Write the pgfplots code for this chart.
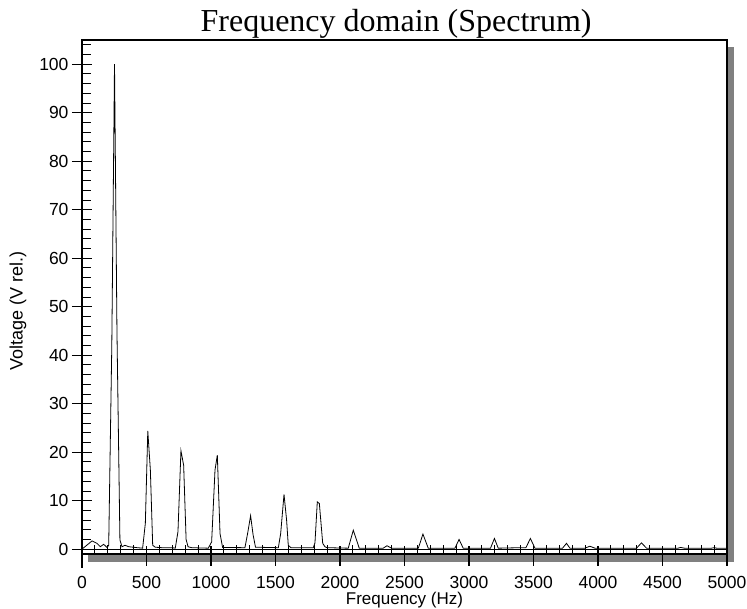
\documentclass[border=0pt]{standalone}
\usepackage{fontspec}
\setmainfont{Liberation Sans}
\newfontfamily\seriffont{Liberation Serif}
\usepackage{pgfplots}
\pgfplotsset{compat=1.18}
\definecolor{shadow}{HTML}{808080}
\begin{document}
\begin{tikzpicture}
\path[use as bounding box] (-82pt,-55pt) rectangle (665pt,554pt);
\begin{axis}[
  name=ax, at={(0,0)}, anchor=south west,
  width=645pt, height=514pt, scale only axis,
  xmin=0, xmax=5000, ymin=-1, ymax=105,
  axis on top, clip=false,
  axis line style={line width=1.3pt},
  xtick distance=500, ytick distance=10,
  minor x tick num=4, minor y tick num=4,
  tick pos=left, tick align=inside,
  major tick length=20pt, minor tick length=9pt,
  every major tick/.append style={line width=1.2pt, black},
  every minor tick/.append style={line width=0.9pt, black},
  every major x tick/.append style={yshift=-12pt},
  every major y tick/.append style={xshift=-10pt},
  scaled x ticks=false, scaled y ticks=false,
  /pgf/number format/1000 sep={},
  /pgf/number format/assume math mode=true,
  ticklabel style={font=\fontsize{17.5}{20}\selectfont},
  xticklabel style={yshift=-22pt, inner sep=0pt},
  yticklabel style={xshift=-10pt},
  xlabel={Frequency (Hz)},
  ylabel={Voltage (V rel.)},
  xlabel style={at={(axis description cs:0.5,0)}, anchor=base, yshift=-50.5pt, inner sep=0pt, font=\fontsize{17}{20}\selectfont},
  ylabel style={at={(axis description cs:0,0.473)}, anchor=center, yshift=64pt, font=\fontsize{18}{20}\selectfont},
  title={Frequency domain (Spectrum)},
  title style={at={(axis description cs:0.487,1)}, anchor=base, yshift=2pt, font=\seriffont\fontsize{32}{35}\selectfont},
]
\fill[shadow] ([xshift=6pt,yshift=-8pt]rel axis cs:0,0) rectangle ([xshift=7pt]rel axis cs:1,0);
\fill[shadow] ([yshift=-7pt]rel axis cs:1,1) rectangle ([xshift=7pt,yshift=-8pt]rel axis cs:1,0);
\draw[line width=1.3pt] (rel axis cs:0,0) -- ++(0pt,-14pt);
\addplot[black, line width=1.2pt, no marks] coordinates {(0,0) (5000,0)};
\addplot[black, line width=0.8pt, no marks, sharp plot] coordinates {
(0,0) (78,1.7) (116,1.2) (142,0.5) (168,1.0) (194,0.35) (207,0.8)
(231,42) (252,100) (271,45) (294,1.9) (310,0.5) (333,0.8) (362,0.5) (429,0.3)
(470,0.2) (491,5.3) (510,24.4) (530,16.3) (548,0.8) (568,0.4) (620,0.3) (700,0.3)
(723,0.2) (744,3.6) (767,20.3) (788,17.3) (807,2.0) (822,0.5) (850,0.3)
(979,0.2) (1005,1.5) (1031,16.3) (1049,19.4) (1070,3.2) (1090,0.35)
(1263,0.3) (1285,3.4) (1307,6.9) (1326,3.0) (1345,0.4)
(1522,0.3) (1540,3.2) (1566,11.3) (1586,6) (1599,0.8) (1620,0.3)
(1793,0.3) (1806,1.3) (1824,9.75) (1840,9.4) (1866,1.2) (1883,0.5) (1900,0.3)
(2064,0.2) (2103,3.9) (2149,0.2)
(2335,0.2) (2364,0.7) (2400,0.2)
(2607,0.2) (2643,3.1) (2684,0.2)
(2891,0.2) (2923,2.0) (2955,0.2)
(3167,0.2) (3197,2.2) (3227,0.2)
(3400,0.3) (3441,0.3) (3476,2.2) (3511,0.2)
(3725,0.2) (3756,1.2) (3782,0.2)
(3898,0.2) (3937,0.6) (3976,0.2)
(4299,0.2) (4337,1.3) (4376,0.2)
(4620,0.2) (4640,0.35) (4670,0.2)
(4880,0.2) (4900,0.3) (4920,0.2) (5000,0.2)
};
\end{axis}
\end{tikzpicture}
\end{document}
